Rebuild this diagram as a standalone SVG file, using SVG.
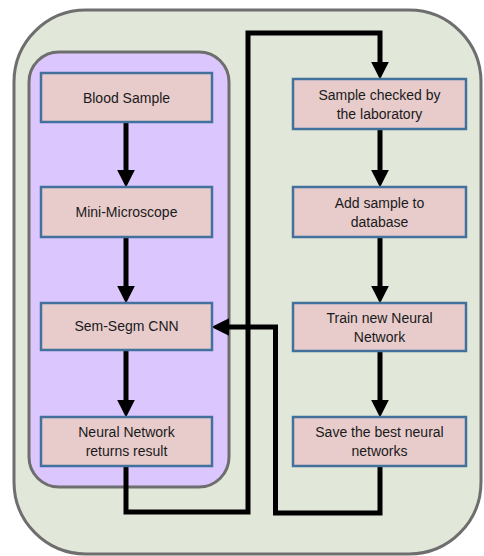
<svg xmlns="http://www.w3.org/2000/svg" width="484" height="556" viewBox="0 0 484 556">
<style>
.box{fill:#E8CCCC;stroke:#41719C;stroke-width:2.5}
.t{font-family:"Liberation Sans",Arial,sans-serif;font-size:14px;fill:#1a1a1a;text-anchor:middle}
.c{fill:none;stroke:#000;stroke-width:5}
</style>
<defs>
<marker id="ah" markerUnits="userSpaceOnUse" markerWidth="18" markerHeight="18" viewBox="0 0 17 17" refX="7" refY="8.5" orient="auto">
<path d="M0,0 L17,8.5 L0,17 z" fill="#000"/>
</marker>
</defs>
<rect id="outer" x="14" y="10" width="467" height="544" rx="72" ry="72" fill="#E2E8D9" stroke="#6E6E6E" stroke-width="3"/>
<rect id="inner" x="29" y="52" width="200" height="435" rx="30" ry="30" fill="#DCC6FE" stroke="#6E6E6E" stroke-width="3"/>
<g id="connectors">
<path class="c" d="M126,122 V177" marker-end="url(#ah)"/>
<path class="c" d="M126,237 V293" marker-end="url(#ah)"/>
<path class="c" d="M126,350 V407" marker-end="url(#ah)"/>
<path class="c" d="M126,466 V512 H248 V33 H380 V69" marker-end="url(#ah)"/>
<path class="c" d="M380,129 V177" marker-end="url(#ah)"/>
<path class="c" d="M380,237 V293" marker-end="url(#ah)"/>
<path class="c" d="M380,351 V407" marker-end="url(#ah)"/>
<path class="c" d="M380,466 V513 H275.5 V327 H222" marker-end="url(#ah)"/>
</g>
<g id="blood"><rect class="box" x="41" y="73" width="171" height="49"/><text class="t" x="126.5" y="102.5">Blood Sample</text></g>
<g id="micro"><rect class="box" x="41" y="187" width="171" height="50"/><text class="t" x="126.5" y="216.5">Mini-Microscope</text></g>
<g id="cnn"><rect class="box" x="41" y="303" width="171" height="47"/><text class="t" x="126.5" y="331">Sem-Segm CNN</text></g>
<g id="result"><rect class="box" x="41" y="417" width="171" height="49"/><text class="t" x="126.5" y="437">Neural Network</text><text class="t" x="126.5" y="456">returns result</text></g>
<g id="checked"><rect class="box" x="293" y="79" width="173" height="50"/><text class="t" x="379.5" y="100">Sample checked by</text><text class="t" x="379.5" y="119">the laboratory</text></g>
<g id="add"><rect class="box" x="293" y="187" width="173" height="50"/><text class="t" x="379.5" y="208">Add sample to</text><text class="t" x="379.5" y="227">database</text></g>
<g id="train"><rect class="box" x="293" y="303" width="173" height="48"/><text class="t" x="379.5" y="323">Train new Neural</text><text class="t" x="379.5" y="342">Network</text></g>
<g id="save"><rect class="box" x="293" y="417" width="173" height="49"/><text class="t" x="379.5" y="437">Save the best neural</text><text class="t" x="379.5" y="456">networks</text></g>
</svg>
